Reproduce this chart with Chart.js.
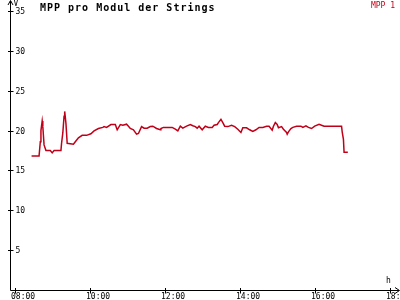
<!DOCTYPE html>
<html>
<head>
<meta charset="utf-8">
<script src="https://cdn.jsdelivr.net/npm/chart.js@4/dist/chart.umd.min.js"></script>
<style>
html,body{margin:0;padding:0;background:#fff;}
canvas{display:block;}
</style>
</head>
<body>
<canvas id="c" width="400" height="300"></canvas>
<script>
const titleText = "MPP pro Modul der Strings";
const seriesName = "MPP 1";
const yUnit = "V";
const xUnit = "h";
const yTicks = [5, 10, 15, 20, 25, 30, 35];
const xTickLabels = ["08:00", "10:00", "12:00", "14:00", "16:00", "18:00"];
const times = ["08:26","08:38","08:40","08:41","08:43","08:44","08:46","08:49","08:56","08:59","09:02","09:13",
"09:14","09:16","09:18","09:19","09:21","09:23","09:33","09:36","09:41","09:47","09:54","10:01","10:06","10:13",
"10:20","10:22","10:26","10:33","10:40","10:43","10:48","10:52","10:58","11:01","11:04","11:09","11:14","11:17",
"11:22","11:26","11:31","11:36","11:40","11:46","11:52","11:53","11:57","12:11","12:16","12:20","12:24","12:28",
"12:34","12:40","12:44","12:48","12:51","12:54","12:59","13:04","13:09","13:15","13:18","13:23","13:25","13:29",
"13:32","13:35","13:40","13:46","13:51","13:56","14:01","14:04","14:10","14:15","14:20","14:25","14:30","14:36",
"14:42","14:46","14:51","14:53","14:56","14:59","15:01","15:06","15:09","15:14","15:15","15:17","15:21","15:24",
"15:30","15:37","15:40","15:45","15:49","15:54","15:59","16:06","16:10","16:14","16:42","16:43","16:45","16:46","16:52"];
const values = [16.8,16.8,18.6,20.0,21.2,20.5,18.2,17.5,17.5,17.2,17.5,17.5,
18.4,19.7,21.8,22.4,20.9,18.4,18.3,18.6,19.1,19.4,19.4,19.6,19.96,20.26,
20.4,20.5,20.4,20.76,20.76,20.1,20.76,20.67,20.8,20.55,20.26,20.1,19.55,19.64,
20.5,20.3,20.3,20.5,20.55,20.26,20.1,20.26,20.4,20.4,20.17,19.96,20.55,20.3,
20.55,20.76,20.6,20.5,20.3,20.55,20.1,20.55,20.4,20.4,20.67,20.76,21.0,21.4,
21.0,20.55,20.5,20.67,20.5,20.17,19.76,20.35,20.35,20.1,19.9,20.1,20.4,20.4,
20.55,20.55,20.05,20.55,21.0,20.76,20.35,20.5,20.17,19.76,19.55,19.84,20.26,20.4,
20.55,20.55,20.4,20.6,20.4,20.26,20.55,20.8,20.67,20.55,20.55,19.84,18.9,17.27,17.27];

function toMin(t){ const p = t.split(":"); return (parseInt(p[0],10)-8)*60 + parseInt(p[1],10); }
const points = times.map((t,i)=>({x: toMin(t), y: values[i]}));
const xTickVals = xTickLabels.map(toMin);

const MONO = '"DejaVu Sans Mono", "Liberation Mono", monospace';
const RED = '#c00018';

const decor = {
  id: 'decor',
  afterDraw(chart){
    const ctx = chart.ctx;
    const xs = chart.scales.x, ys = chart.scales.y;
    const ax = Math.round(xs.getPixelForValue(xs.min)) + 0.5;
    const ay = Math.round(ys.getPixelForValue(0)) + 0.5;
    ctx.save();
    ctx.strokeStyle = '#000';
    ctx.lineWidth = 1;
    ctx.beginPath();
    ctx.moveTo(ax, ay); ctx.lineTo(ax, 1);
    ctx.moveTo(ax-2.5, 5); ctx.lineTo(ax, 0.5); ctx.lineTo(ax+2.5, 5);
    ctx.moveTo(ax, ay); ctx.lineTo(399, ay);
    ctx.moveTo(395, ay-3); ctx.lineTo(399.5, ay); ctx.lineTo(395, ay+3);
    ctx.stroke();
    ctx.fillStyle = '#000';
    ctx.font = '8px ' + MONO;
    ctx.textAlign = 'left';
    ctx.textBaseline = 'middle';
    yTicks.forEach(v=>{
      const py = Math.round(ys.getPixelForValue(v)) + 0.5;
      ctx.beginPath(); ctx.moveTo(ax-2.5, py); ctx.lineTo(ax+3, py); ctx.stroke();
      ctx.fillText(String(v), ax+5, py+0.5);
    });
    ctx.textBaseline = 'top';
    xTickVals.forEach((v,i)=>{
      const px = Math.round(xs.getPixelForValue(v)) + 0.5;
      ctx.beginPath(); ctx.moveTo(px, ay-2.5); ctx.lineTo(px, ay+3); ctx.stroke();
      ctx.fillText(xTickLabels[i], px-4.5, ay+2);
    });
    ctx.textBaseline = 'top';
    ctx.fillText(yUnit, ax+3, 0);
    ctx.fillText(xUnit, 386, 277);
    ctx.font = 'bold 10px ' + MONO;
    try { ctx.letterSpacing = '1px'; } catch(e) {}
    ctx.textBaseline = 'alphabetic';
    ctx.fillText(titleText, 40, 11);
    try { ctx.letterSpacing = '0px'; } catch(e) {}
    ctx.font = '8px ' + MONO;
    ctx.fillStyle = RED;
    ctx.textAlign = 'right';
    ctx.textBaseline = 'top';
    ctx.fillText(seriesName, 395, 2);
    ctx.restore();
  }
};

new Chart(document.getElementById('c'), {
  type: 'line',
  data: { datasets: [{
    label: seriesName,
    data: points,
    borderColor: RED,
    borderWidth: 1.5,
    pointRadius: 0,
    tension: 0,
    fill: false
  }]},
  options: {
    responsive: false,
    animation: false,
    events: [],
    layout: { padding: { left: 10, right: 2, top: 11, bottom: 10 } },
    plugins: { legend: { display: false }, title: { display: false }, tooltip: { enabled: false } },
    scales: {
      x: { type: 'linear', display: false, min: -8.5, max: 612.3 },
      y: { type: 'linear', display: false, min: 0, max: 35 }
    }
  },
  plugins: [decor]
});
</script>
</body>
</html>
